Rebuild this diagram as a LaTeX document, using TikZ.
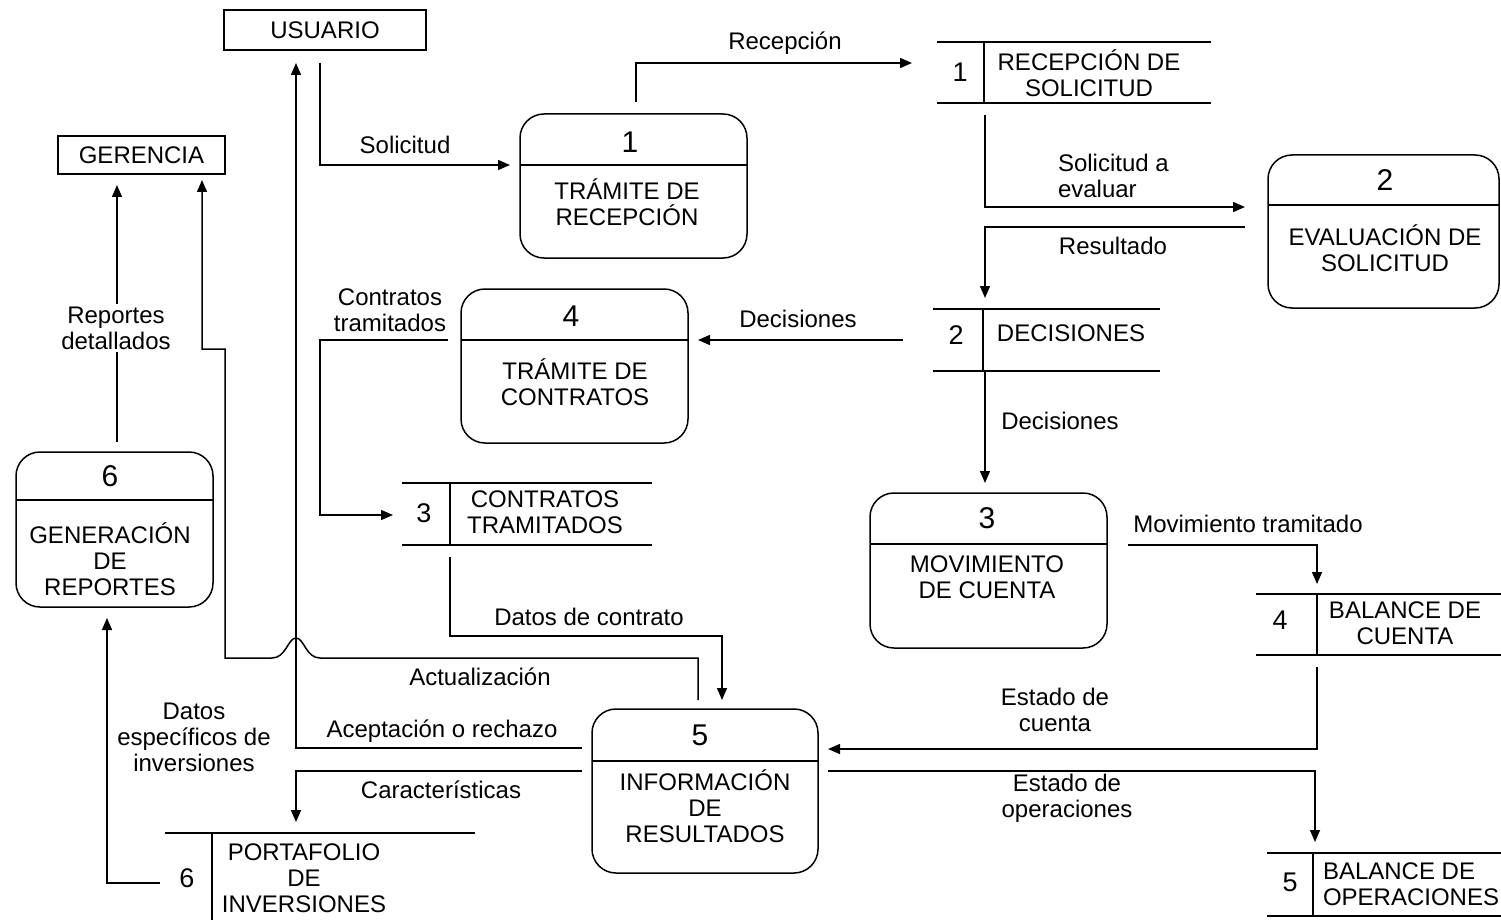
\documentclass[tikz,border=0pt]{standalone}
\usepackage{fontspec}
\setmainfont{Liberation Sans}
\usetikzlibrary{arrows.meta}
\begin{document}
\begin{tikzpicture}[x=1pt,y=-1pt,line width=1.5pt,
  every node/.style={inner sep=0pt,outer sep=0pt},
  txt/.style={font=\fontsize{24}{26}\selectfont,align=center},
  num/.style={font=\fontsize{30}{30}\selectfont},
  snum/.style={font=\fontsize{27}{27}\selectfont},
  entity/.style={draw,txt},
  proc/.style={draw,rounded corners=24},
  note/.style={txt,fill=white,inner sep=3pt},
  flow/.style={-{Triangle[length=12pt,width=10pt]}}]
\useasboundingbox (0,0) rectangle (1501,920);

% external entities
\node[entity,minimum width=202,minimum height=40] (usu) at (325,30) {USUARIO};
\node[entity,minimum width=167,minimum height=38] (ger) at (141.5,155) {GERENCIA};

% processes
\node[proc,minimum width=227,minimum height=144] (p1) at (633.5,186) {};
\draw (p1.west |- 0,165) -- (p1.east |- 0,165);
\node[num] at (630,142) {1};
\node[txt] at (627,202) {TRÁMITE DE\\RECEPCIÓN};

\node[proc,minimum width=231,minimum height=153] (p2) at (1383.5,231.5) {};
\draw (p2.west |- 0,205) -- (p2.east |- 0,205);
\node[num] at (1385,180) {2};
\node[txt] at (1385,248) {EVALUACIÓN DE\\SOLICITUD};

\node[proc,minimum width=237,minimum height=155] (p3) at (988.5,570.5) {};
\draw (p3.west |- 0,544) -- (p3.east |- 0,544);
\node[num] at (987,518) {3};
\node[txt] at (987,577) {MOVIMIENTO\\DE CUENTA};

\node[proc,minimum width=227,minimum height=154] (p4) at (574.5,366) {};
\draw (p4.west |- 0,340) -- (p4.east |- 0,340);
\node[num] at (571,316) {4};
\node[txt] at (575,382) {TRÁMITE DE\\CONTRATOS};

\node[proc,minimum width=226,minimum height=164] (p5) at (705,791) {};
\draw (p5.west |- 0,761) -- (p5.east |- 0,761);
\node[num] at (700,735) {5};
\node[txt] at (705,806) {INFORMACIÓN\\DE\\RESULTADOS};

\node[proc,minimum width=197,minimum height=155] (p6) at (114.5,529.5) {};
\draw (p6.west |- 0,500) -- (p6.east |- 0,500);
\node[num] at (110,476) {6};
\node[txt] at (110,559) {GENERACIÓN\\DE\\REPORTES};

% data stores
\node[minimum width=274,minimum height=61] (d1) at (1074,72.5) {};
\draw (d1.north west) -- (d1.north east) (d1.south west) -- (d1.south east)
      (d1.north west -| 984,0) -- (d1.south west -| 984,0);
\node[snum] at (960,72) {1};
\node[txt] at (1089,73) {RECEPCIÓN DE\\SOLICITUD};

\node[minimum width=227,minimum height=62] (d2) at (1046.5,340) {};
\draw (d2.north west) -- (d2.north east) (d2.south west) -- (d2.south east)
      (d2.north west -| 983,0) -- (d2.south west -| 983,0);
\node[snum] at (956,335) {2};
\node[txt] at (1071,333) {DECISIONES};

\node[minimum width=250,minimum height=62] (d3) at (527,514) {};
\draw (d3.north west) -- (d3.north east) (d3.south west) -- (d3.south east)
      (d3.north west -| 450,0) -- (d3.south west -| 450,0);
\node[snum] at (424,513) {3};
\node[txt] at (545,512) {CONTRATOS\\TRAMITADOS};

\node[minimum width=245,minimum height=61] (d4) at (1378.5,624.5) {};
\draw (d4.north west) -- (d4.north east) (d4.south west) -- (d4.south east)
      (d4.north west -| 1317,0) -- (d4.south west -| 1317,0);
\node[snum] at (1280,620) {4};
\node[txt] at (1405,623) {BALANCE DE\\CUENTA};

\node[minimum width=234,minimum height=63] (d5) at (1384,884.5) {};
\draw (d5.north west) -- (d5.north east) (d5.south west) -- (d5.south east)
      (d5.north west -| 1313,0) -- (d5.south west -| 1313,0);
\node[snum] at (1290,882) {5};
\node[txt,align=left,anchor=west] at (1323,884) {BALANCE DE\\OPERACIONES};

\node[minimum width=310,minimum height=87] (d6) at (320,876.5) {};
\draw (d6.north west) -- (d6.north east)
      (d6.north west -| 212,0) -- (d6.south west -| 212,0);
\node[snum] at (187,878) {6};
\node[txt] at (304,878) {PORTAFOLIO\\DE\\INVERSIONES};

% data flows
\draw[flow] ([shift={(-5,13)}]usu.south) |- ([shift={(-10,-21)}]p1.west);
\node[txt] at (405,145) {Solicitud};

\draw[flow] ([shift={(2.5,-12)}]p1.north) |- ([shift={(-25,-9.5)}]d1.west);
\node[txt] at (785,43) {Recepción};

\draw[flow] ([shift={(48,12)}]d1.south west) |- ([shift={(-23,-24.5)}]p2.west);
\node[txt,align=left,anchor=west] at (1058,176) {Solicitud a\\evaluar};

\draw[flow] ([shift={(-23,-4.5)}]p2.west) -| ([shift={(52,-11)}]d2.north west);
\node[txt] at (1113,246) {Resultado};

\draw[flow] ([shift={(-30,0)}]d2.west) -- ([shift={(10,-26)}]p4.east);
\node[txt] at (798,319) {Decisiones};

\draw[flow] ([shift={(52,1)}]d2.south west) -- ([shift={(-3.5,-10)}]p3.north);
\node[txt] at (1060,421) {Decisiones};

\draw[flow] ([shift={(-13,-26)}]p4.west) -- ++(-128,0) |- ([shift={(-9,1)}]d3.west);
\node[txt] at (390,310) {Contratos\\tramitados};

\draw[flow] ([shift={(48,12)}]d3.south west) -- ++(0,79) -| ([shift={(17,-9)}]p5.north);
\node[txt] at (589,617) {Datos de contrato};

\draw[flow] ([shift={(-7,-9)}]p5.north) -- ++(0,-42) -- (320,658)
      .. controls (306,658) and (304,638) .. (296,638)
      .. controls (288,638) and (286,658) .. (272,658)
      -- (225,658) -- (225,349) -- (202,349) -- ([shift={(-23,6)}]ger.south east);
\node[txt] at (480,677) {Actualización};

\draw[flow] ([shift={(-10,-43)}]p5.west) -| ([shift={(-29,13)}]usu.south);
\node[txt] at (442,731) {Aceptación o rechazo};

\draw[flow] ([shift={(-10,-20)}]p5.west) -| ([shift={(-24,-11)}]d6.north);
\node[txt] at (441,790) {Características};

\draw[flow] ([shift={(-5,6.5)}]d6.west) -| ([shift={(-7.5,11)}]p6.south);
\node[txt] at (194,737) {Datos\\específicos de\\inversiones};

\draw[flow] ([shift={(2.5,-10)}]p6.north) -- ([shift={(-24.5,11)}]ger.south);
\node[note] at (116,328) {Reportes\\detallados};

\draw[flow] ([shift={(21,-25.5)}]p3.east) -| ([shift={(61,-10)}]d4.north west);
\node[txt] at (1248,524) {Movimiento tramitado};

\draw[flow] ([shift={(61,12)}]d4.south west) |- ([shift={(10,-42)}]p5.east);
\node[txt] at (1055,710) {Estado de\\cuenta};

\draw[flow] ([shift={(10,-20)}]p5.east) -| ([shift={(48,-11)}]d5.north west);
\node[txt] at (1067,798) {Estado de\\operaciones};
\end{tikzpicture}
\end{document}
